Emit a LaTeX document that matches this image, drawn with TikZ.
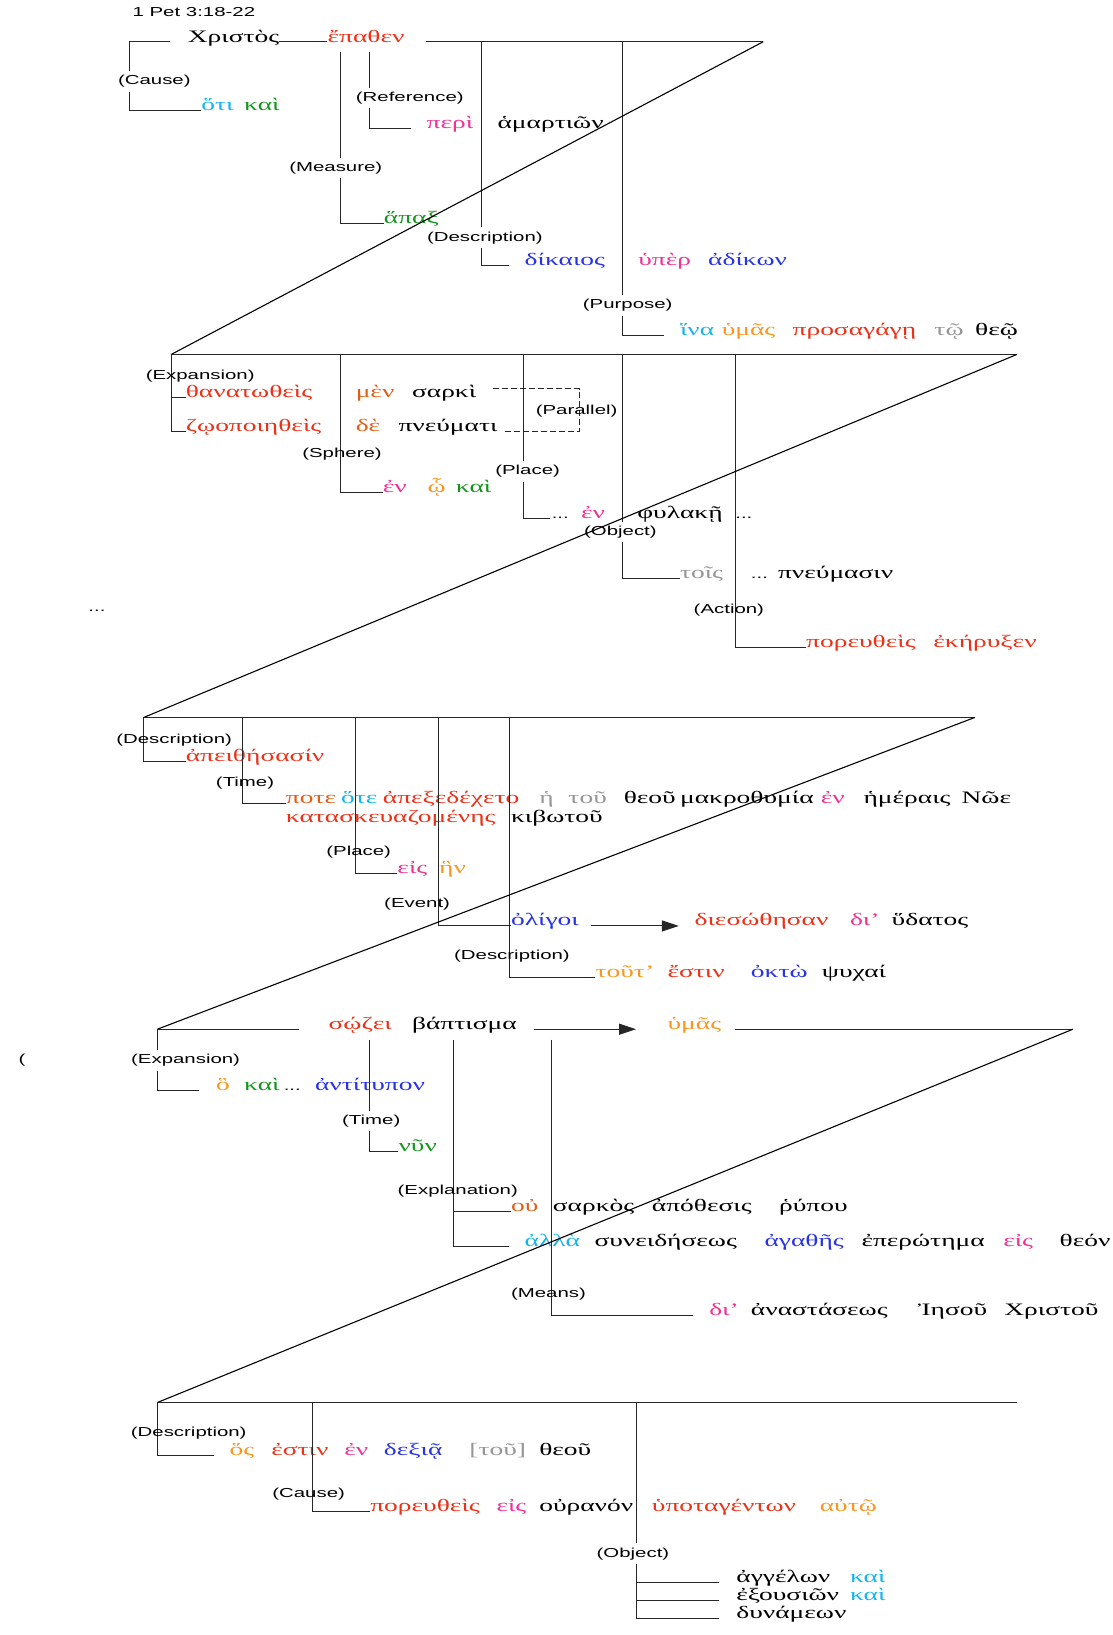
\documentclass[tikz,border=0pt]{standalone}
\usepackage{fontspec}
\usepackage{tikz}
\usetikzlibrary{arrows.meta}
\newfontfamily\grkfont[FakeStretch=1.57]{Liberation Serif}
\newfontfamily\lblfont[FakeStretch=1.57]{Liberation Sans}
\definecolor{gred}{RGB}{235,50,25}
\definecolor{gpink}{RGB}{240,50,150}
\definecolor{gblue}{RGB}{40,50,230}
\definecolor{gcyan}{RGB}{20,180,240}
\definecolor{ggreen}{RGB}{20,150,30}
\definecolor{gorange}{RGB}{250,150,30}
\definecolor{gbrown}{RGB}{225,95,20}
\definecolor{ggray}{RGB}{150,150,150}
\tikzstyle{gk}=[anchor=base west, inner sep=0pt, font=\grkfont\fontsize{17.5}{20}\selectfont]
\tikzstyle{dots}=[anchor=base west, inner sep=0pt, font=\lblfont\fontsize{13}{15}\selectfont]
\tikzstyle{lbl}=[inner sep=4pt, font=\lblfont\fontsize{13}{15}\selectfont]
\tikzstyle{ln}=[draw=black!85, line width=1pt]
\tikzstyle{diag}=[draw=black, line width=1.1pt]
\tikzstyle{arr}=[ln, -{Triangle[length=17pt,width=11pt]}]

\begin{document}
\begin{tikzpicture}[x=1.0431pt, y=-1.0431pt]
	\useasboundingbox (0,0) rectangle (1067,1568);
	\node[lbl, anchor=west, inner sep=0pt] (title) at (127,12) {1 Pet 3:18-22};

	% 3:18a
	\coordinate (a0) at (124,40);
	\coordinate (a1) at (327,50);
	\coordinate (a2) at (354,50);
	\coordinate (a3) at (462,40);
	\coordinate (a4) at (597,40);
	\coordinate (a5) at (732,40);
	\node[gk] (christos) at (180,41) {Χριστὸς};
	\node[gk, text=gred] (epathen) at (314,41) {ἔπαθεν};
	\draw[ln] (a0) -- ([xshift=-17.7pt]christos.base west |- a0);
	\draw[ln] (christos.base east |- a0) -- (epathen.base west |- a0);
	\draw[ln] ([xshift=20.9pt]epathen.base east |- a0) -- (a5);

	\node[lbl] (causeA) at (148,78) {(Cause)};
	\node[gk, text=gcyan] (otiA) at (193,106) {ὅτι};
	\node[gk, text=ggreen] (kaiA) at (234,106) {καὶ};
	\draw[ln] (a0) -- (a0 |- causeA.north);
	\draw[ln] (a0 |- causeA.south) |- (otiA.base west);

	\node[lbl] (measureA) at (322,161) {(Measure)};
	\node[gk, text=ggreen] (hapaxA) at (368,214) {ἅπαξ};
	\draw[ln] (a1) -- (a1 |- measureA.north);
	\draw[ln] (a1 |- measureA.south) |- (hapaxA.base west);

	\node[lbl] (referenceA) at (393,94) {(Reference)};
	\node[gk, text=gpink] (periA) at (409,123) {περὶ};
	\node[gk] (hamartA) at (477,123) {ἁμαρτιῶν};
	\draw[ln] (a2) -- (a2 |- referenceA.north);
	\draw[ln] (a2 |- referenceA.south) |- ([xshift=-15.6pt]periA.base west);

	\node[lbl] (descrA) at (465,228) {(Description)};
	\node[gk, text=gblue] (dikaiosA) at (503,255) {δίκαιος};
	\node[gk, text=gpink] (huperA) at (612,255) {ὑπὲρ};
	\node[gk, text=gblue] (adikonA) at (679,255) {ἀδίκων};
	\draw[ln] (a3) -- (a3 |- descrA.north);
	\draw[ln] (a3 |- descrA.south) |- ([xshift=-15.6pt]dikaiosA.base west);

	\node[lbl] (purposeA) at (602,293) {(Purpose)};
	\node[gk, text=gcyan] (hinaA) at (652,322) {ἵνα};
	\node[gk, text=gorange] (humasA) at (692,322) {ὑμᾶς};
	\node[gk, text=gred] (prosA) at (760,322) {προσαγάγῃ};
	\node[gk, text=ggray] (toA) at (896,322) {τῷ};
	\node[gk] (theoA) at (935,322) {θεῷ};
	\draw[ln] (a4) -- (a4 |- purposeA.north);
	\draw[ln] (a4 |- purposeA.south) |- ([xshift=-15.6pt]hinaA.base west);

	% 3:18b-19
	\coordinate (b0) at (164,340);
	\coordinate (b1) at (327,340);
	\coordinate (b2) at (502,340);
	\coordinate (b3) at (597,340);
	\coordinate (b4) at (705,340);
	\coordinate (b5) at (975,340);
	\draw[diag] (a5) -- (b0);
	\draw[ln] (b0) -- (b5);

	\node[gk, text=gred] (thanatB) at (178,381) {θανατωθεὶς};
	\node[gk, text=gred] (zoopB) at (178,414) {ζῳοποιηθεὶς};
	\node[gk, text=gbrown] (menB) at (341,381) {μὲν};
	\node[gk] (sarkiB) at (395,381) {σαρκὶ};
	\node[gk, text=gbrown] (deB) at (341,414) {δὲ};
	\node[gk] (pneumB) at (382,414) {πνεύματι};
	\draw[ln] (b0) |- (thanatB.base west);
	\draw[ln] (b0) |- (zoopB.base west);
	\node[lbl] (expB) at (192,361) {(Expansion)};

	\coordinate (parT) at (473,373);
	\coordinate (parR) at (556,373);
	\draw[ln, dash pattern=on 6pt off 3pt] (parT) -- (parR) |- ([xshift=7.3pt]pneumB.base east);
	\node[lbl] (parallelB) at (553,394) {(Parallel)};

	\node[gk, text=gpink] (enB) at (367,472) {ἐν};
	\node[gk, text=gorange] (hoB) at (410,472) {ᾧ};
	\node[gk, text=ggreen] (kaiB) at (437,472) {καὶ};
	\draw[ln] (b1) |- (enB.base west);
	\node[lbl] (sphereB) at (328,436) {(Sphere)};

	\node[lbl] (placeB) at (506,452) {(Place)};
	\node[dots] (dotsB) at (529,497) {...};
	\node[gk, text=gpink] (en2B) at (557,497) {ἐν};
	\node[gk] (phulB) at (611,497) {φυλακῇ};
	\node[dots] (dots2B) at (705,497) {...};
	\draw[ln] (b2) -- (b2 |- placeB.north);
	\draw[ln] (b2 |- placeB.south) |- ([xshift=-2pt]dotsB.base west);

	\node[lbl] (objectB) at (595,510) {(Object)};
	\node[gk, text=ggray] (toisB) at (652,555) {τοῖς};
	\node[dots] (dots3B) at (720,555) {...};
	\node[gk] (pneumasinB) at (746,555) {πνεύμασιν};
	\draw[ln] (b3) -- (b3 |- objectB.north);
	\draw[ln] (b3 |- objectB.south) |- (toisB.base west);

	\node[gk, text=gred] (poreuB) at (773,621) {πορευθεὶς};
	\node[gk, text=gred] (ekerB) at (895,621) {ἐκήρυξεν};
	\draw[ln] (b4) |- (poreuB.base west);
	\node[lbl] (actionB) at (699,585) {(Action)};

	\node[lbl, inner sep=0pt] (dotsL) at (93,586) {...};

	% 3:20
	\coordinate (c0) at (138,688);
	\coordinate (c1) at (233,688);
	\coordinate (c2) at (341,688);
	\coordinate (c3) at (421,688);
	\coordinate (c4) at (489,688);
	\coordinate (c5) at (935,688);
	\draw[diag] (b5) -- (c0);
	\draw[ln] (c0) -- (c5);

	\node[gk, text=gred] (apeithC) at (178,730) {ἀπειθήσασίν};
	\draw[ln] (c0) |- (apeithC.base west);
	\node[lbl] (descrC) at (167,710) {(Description)};

	\node[gk, text=gbrown] (poteC) at (274,771) {ποτε};
	\node[gk, text=gcyan] (hoteC) at (327,771) {ὅτε};
	\node[gk, text=gred] (apexC) at (367,771) {ἀπεξεδέχετο};
	\node[gk, text=ggray] (heC) at (517,771) {ἡ};
	\node[gk, text=ggray] (touC) at (545,771) {τοῦ};
	\node[gk] (theouC) at (598,771) {θεοῦ};
	\node[gk] (makroC) at (652,771) {μακροθυμία};
	\node[gk, text=gpink] (enC) at (787,771) {ἐν};
	\node[gk] (hemerC) at (828,771) {ἡμέραις};
	\node[gk] (noeC) at (922,771) {Νῶε};
	\node[gk, text=gred] (kataC) at (274,789) {κατασκευαζομένης};
	\node[gk] (kibC) at (490,789) {κιβωτοῦ};
	\draw[ln] (c1) |- (poteC.base west);
	\node[lbl] (timeC) at (235,751) {(Time)};

	\node[gk, text=gpink] (eisC) at (381,838) {εἰς};
	\node[gk, text=gorange] (henC) at (421,838) {ἣν};
	\draw[ln] (c2) |- (eisC.base west);
	\node[lbl] (placeC) at (344,817) {(Place)};

	\node[gk, text=gblue] (oligoiC) at (490,888) {ὀλίγοι};
	\node[gk, text=gred] (diesoC) at (666,888) {διεσώθησαν};
	\node[gk, text=gpink] (diC) at (815,888) {δι’};
	\node[gk] (hudatC) at (855,888) {ὕδατος};
	\draw[ln] (c3) |- (oligoiC.base west);
	\draw[arr] ([xshift=12pt]oligoiC.base east) -- ([xshift=-15.6pt]diesoC.base west);
	\node[lbl] (eventC) at (400,867) {(Event)};

	\node[gk, text=gorange] (toutC) at (571,937) {τοῦτ’};
	\node[gk, text=gred] (estinC) at (640,937) {ἔστιν};
	\node[gk, text=gblue] (oktoC) at (720,937) {ὀκτὼ};
	\node[gk] (psuchC) at (788,937) {ψυχαί};
	\draw[ln] (c4) |- (toutC.base west);
	\node[lbl] (descr2C) at (491,917) {(Description)};

	% 3:21
	\coordinate (d0) at (151,987);
	\coordinate (d1) at (354,997);
	\coordinate (d2) at (435,997);
	\coordinate (d3) at (529,997);
	\coordinate (d5) at (1029,987);
	\draw[diag] (c5) -- (d0);
	\node[gk, text=gred] (sozeiD) at (315,987) {σῴζει};
	\node[gk] (baptD) at (395,987) {βάπτισμα};
	\node[gk, text=gorange] (humasD) at (640,987) {ὑμᾶς};
	\draw[ln] (d0) -- ([xshift=-29.2pt]sozeiD.base west);
	\draw[arr] ([xshift=16.7pt]baptD.base east) -- ([xshift=-31.3pt]humasD.base west);
	\draw[ln] ([xshift=13.5pt]humasD.base east) -- (d5);

	\node[lbl, inner sep=0pt] (parenD) at (21,1017) {(};
	\node[lbl] (expD) at (178,1017) {(Expansion)};
	\node[gk, text=gorange] (hoD) at (207,1046) {ὃ};
	\node[gk, text=ggreen] (kaiD) at (234,1046) {καὶ};
	\node[dots] (dotsD) at (272,1046) {...};
	\node[gk, text=gblue] (antiD) at (302,1046) {ἀντίτυπον};
	\draw[ln] (d0) -- (d0 |- expD.north);
	\draw[ln] (d0 |- expD.south) |- ([xshift=-16.7pt]hoD.base west);

	\node[lbl] (timeD) at (356,1075) {(Time)};
	\node[gk, text=ggreen] (nunD) at (382,1104) {νῦν};
	\draw[ln] (d1) -- (d1 |- timeD.north);
	\draw[ln] (d1 |- timeD.south) |- (nunD.base west);

	\node[gk, text=gbrown] (ouD) at (490,1162) {οὐ};
	\node[gk] (sarkosD) at (530,1162) {σαρκὸς};
	\node[gk] (apothD) at (625,1162) {ἀπόθεσις};
	\node[gk] (rhupD) at (747,1162) {ῥύπου};
	\node[gk, text=gcyan] (allaD) at (503,1195) {ἀλλὰ};
	\node[gk] (suneiD) at (570,1195) {συνειδήσεως};
	\node[gk, text=gblue] (agathD) at (733,1195) {ἀγαθῆς};
	\node[gk] (eperD) at (826,1195) {ἐπερώτημα};
	\node[gk, text=gpink] (eisD) at (962,1195) {εἰς};
	\node[gk] (theonD) at (1016,1195) {θεόν};
	\draw[ln] (d2) |- ([xshift=-15.6pt]allaD.base west);
	\draw[ln] (d2 |- ouD.base) -- (ouD.base west);
	\node[lbl] (explD) at (439,1142) {(Explanation)};

	\node[gk, text=gpink] (diD) at (680,1262) {δι’};
	\node[gk] (anastD) at (720,1262) {ἀναστάσεως};
	\node[gk] (iesouD) at (880,1262) {Ἰησοῦ};
	\node[gk] (christouD) at (963,1262) {Χριστοῦ};
	\draw[ln] (d3) |- ([xshift=-15.6pt]diD.base west);
	\node[lbl] (meansD) at (526,1241) {(Means)};

	% 3:22
	\coordinate (e0) at (151,1345);
	\coordinate (e1) at (300,1345);
	\coordinate (e2) at (610,1345);
	\coordinate (e5) at (975,1345);
	\draw[diag] (d5) -- (e0);
	\draw[ln] (e0) -- (e5);

	\node[gk, text=gorange] (hosE) at (220,1396) {ὅς};
	\node[gk, text=gred] (estinE) at (260,1396) {ἐστιν};
	\node[gk, text=gpink] (enE) at (330,1396) {ἐν};
	\node[gk, text=gblue] (dexiaE) at (368,1396) {δεξιᾷ};
	\node[gk, text=ggray] (touE) at (450,1396) {[τοῦ]};
	\node[gk] (theouE) at (517,1396) {θεοῦ};
	\draw[ln] (e0) |- ([xshift=-15.6pt]hosE.base west);
	\node[lbl] (descrE) at (181,1374) {(Description)};

	\node[gk, text=gred] (poreuE) at (355,1450) {πορευθεὶς};
	\node[gk, text=gpink] (eisE) at (476,1450) {εἰς};
	\node[gk] (ouranE) at (517,1450) {οὐρανόν};
	\node[gk, text=gred] (hupotE) at (625,1450) {ὑποταγέντων};
	\node[gk, text=gorange] (autoE) at (786,1450) {αὐτῷ};
	\draw[ln] (e1) |- (poreuE.base west);
	\node[lbl] (causeE) at (296,1433) {(Cause)};

	\node[lbl] (objectE) at (607,1490) {(Object)};
	\node[gk] (angelE) at (706,1518) {ἀγγέλων};
	\node[gk, text=gcyan] (kaiE) at (815,1518) {καὶ};
	\node[gk] (exouE) at (706,1535) {ἐξουσιῶν};
	\node[gk, text=gcyan] (kai2E) at (815,1535) {καὶ};
	\node[gk] (dunamE) at (706,1552) {δυνάμεων};
	\draw[ln] (e2) -- (e2 |- objectE.north);
	\draw[ln] (e2 |- objectE.south) |- ([xshift=-16.7pt]dunamE.base west);
	\draw[ln] (e2 |- angelE.base) -- ([xshift=-16.7pt]angelE.base west);
	\draw[ln] (e2 |- exouE.base) -- ([xshift=-16.7pt]exouE.base west);
\end{tikzpicture}
\end{document}
